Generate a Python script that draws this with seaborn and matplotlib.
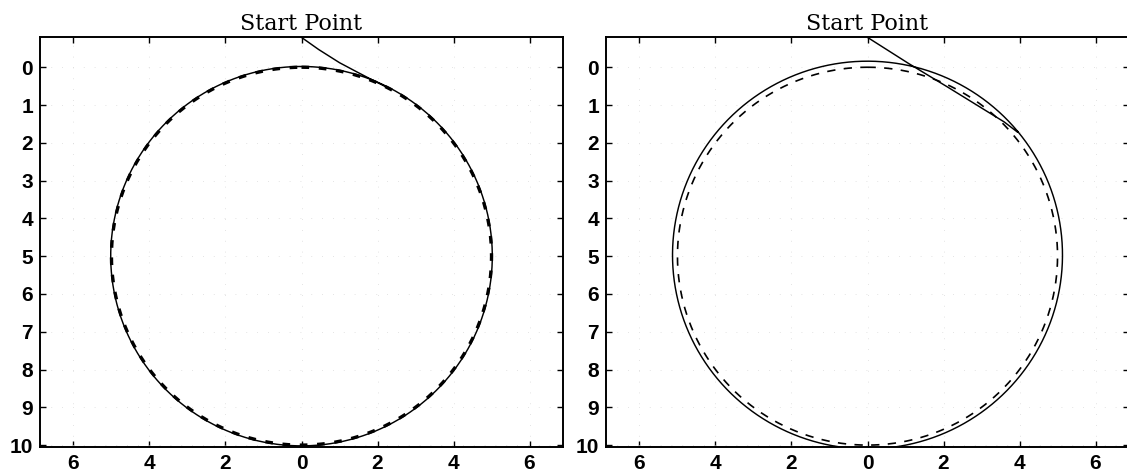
import numpy as np
import pandas as pd
import matplotlib
matplotlib.use("Agg")
import matplotlib.pyplot as plt
import seaborn as sns

# Reference (desired) circular path, shared by both panels
REF_CENTER = (0.0, 5.0)
REF_RADIUS = 5.0

# Left panel: tracked path closely following the reference circle
LEFT_ORBIT_CENTER = (0.0, 5.0)
LEFT_ORBIT_RADIUS = 5.02
LEFT_APPROACH_X = [0.0, 0.45, 1.0, 1.45, 1.85, 2.3]
LEFT_APPROACH_Y = [-0.79, -0.47, -0.12, 0.12, 0.33, 0.56]

# Right panel: tracked path settling on a slightly larger circle
RIGHT_ORBIT_CENTER = (0.0, 4.97)
RIGHT_ORBIT_RADIUS = 5.13
RIGHT_APPROACH_X = [0.0, 1.08, 2.1, 3.0, 3.6, 3.95]
RIGHT_APPROACH_Y = [-0.79, -0.1, 0.52, 1.08, 1.45, 1.72]

X_TICKS = [-6, -4, -2, 0, 2, 4, 6]
X_TICK_LABELS = ["6", "4", "2", "0", "2", "4", "6"]
Y_TICKS = [0, 1, 2, 3, 4, 5, 6, 7, 8, 9, 10]
START_LABEL = "Start Point"

X_LIM = (-6.88, 6.88)
Y_LIM = (10.05, -0.8)


def circle_frame(center, radius, start_deg=0.0, n=721):
    phi = np.deg2rad(start_deg + np.linspace(0.0, 360.0, n))
    return pd.DataFrame({"x": center[0] + radius * np.sin(phi),
                         "y": center[1] - radius * np.cos(phi)})


def tracked_path(ax_x, ax_y, center, radius):
    # approach segment, then a full loop starting where the approach meets the circle
    start_deg = np.rad2deg(np.arcsin((ax_x[-1] - center[0]) / radius))
    loop = circle_frame(center, radius, start_deg)
    approach = pd.DataFrame({"x": ax_x, "y": ax_y})
    return pd.concat([approach, loop], ignore_index=True)


sns.set_theme(style="ticks")
plt.rcParams["font.family"] = ["Liberation Sans", "DejaVu Sans"]

fig = plt.figure(figsize=(11.27, 4.75), dpi=100)
ax_l = fig.add_axes([40 / 1127, 28 / 475, 523 / 1127, 410 / 475])
ax_r = fig.add_axes([606 / 1127, 28 / 475, 523 / 1127, 410 / 475])

panels = [
    (ax_l, LEFT_APPROACH_X, LEFT_APPROACH_Y, LEFT_ORBIT_CENTER, LEFT_ORBIT_RADIUS,
     dict(lw=2.4, dash=(2.3, 2.9))),
    (ax_r, RIGHT_APPROACH_X, RIGHT_APPROACH_Y, RIGHT_ORBIT_CENTER, RIGHT_ORBIT_RADIUS,
     dict(lw=1.2, dash=(5.0, 5.0))),
]

for ax, apx, apy, cen, rad, ref_style in panels:
    ref = circle_frame(REF_CENTER, REF_RADIUS, n=1441)
    sns.lineplot(data=ref, x="x", y="y", sort=False, estimator=None, ax=ax,
                 color="black", lw=ref_style["lw"],
                 linestyle=(0, ref_style["dash"]))
    path = tracked_path(apx, apy, cen, rad)
    sns.lineplot(data=path, x="x", y="y", sort=False, estimator=None, ax=ax,
                 color="black", lw=1.05)

    ax.set_xlim(*X_LIM)
    ax.set_ylim(*Y_LIM)
    ax.set_xticks(X_TICKS)
    ax.set_xticklabels(X_TICK_LABELS)
    ax.set_yticks(Y_TICKS)
    ax.set_xlabel("")
    ax.set_ylabel("")
    ax.grid(True, color="#dadada", lw=0.6, linestyle=(0, (1, 12)))
    ax.tick_params(direction="in", top=True, right=True, length=4, width=1.0,
                   color="black", labelcolor="black", labelsize=15, pad=5)
    for lbl in ax.get_xticklabels() + ax.get_yticklabels():
        lbl.set_fontweight("bold")
    for side in ax.spines.values():
        side.set_visible(True)
        side.set_color("black")
        side.set_linewidth(1.4)
    ax.annotate(START_LABEL, xy=(0, 1), xycoords=("data", "axes fraction"),
                xytext=(0, 1.5), textcoords="offset points", ha="center",
                va="bottom", fontsize=16, family="DejaVu Serif", color="black")

fig.savefig("out.png", dpi=100)
